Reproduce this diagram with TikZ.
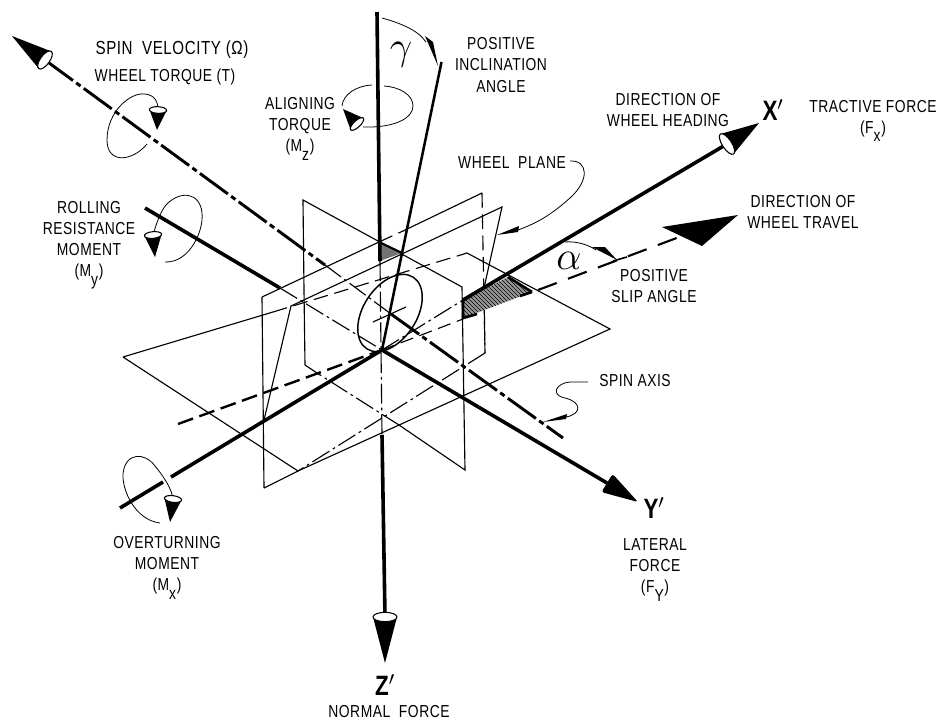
\documentclass[tikz,border=0pt]{standalone}
\usepackage{fix-cm}
\usepackage{fontspec}
\setmainfont[FakeStretch=0.8,LetterSpace=3]{Liberation Sans}
\usetikzlibrary{calc,patterns}

\newcommand{\subsc}[1]{\lower.95ex\hbox{#1}\kern.5pt}
\newcommand{\cone}[4]{% base, tip, half width, depth of the open end
    \fill ($(#1)!#3!90:(#2)$) -- (#2) -- ($(#1)!#3!-90:(#2)$) -- cycle;
    \draw[line width=.8pt,fill=white] let \p1=($(#2)-(#1)$), \n1={atan2(\y1,\x1)} in
        (#1) circle[x radius=#4,y radius=#3,rotate=\n1];
}

\tikzset{
    axisline/.style={line width=2.7pt},
    planeline/.style={line width=.85pt},
    loopline/.style={line width=.6pt},
    chain/.style={dash pattern=on 26pt off 3pt on 4pt off 3pt},
    thinchain/.style={planeline,dash pattern=on 15pt off 3pt on 2pt off 3pt},
    hidden/.style={planeline,dash pattern=on 11pt off 5pt},
    lbl/.style={inner sep=0pt,align=center,font=\fontsize{13}{15.8}\selectfont},
    bigaxis/.style={inner sep=0pt,font=\fontsize{21}{21}\selectfont\bfseries},
}

\begin{document}
\begin{tikzpicture}[x=.75pt,y=-.75pt]
    \useasboundingbox (0,0) rectangle (936,722);

    % axes
    \coordinate (o) at (382,350);
    \coordinate (hub) at (391,314);
    \coordinate (ztop) at (377,12);
    \coordinate (zin) at (380,261);
    \coordinate (zout) at (382,435);
    \coordinate (zbase) at (385,617);
    \coordinate (ztip) at (385,663);
    \coordinate (xback) at (120,508);
    \coordinate (xgapa) at (163,482);
    \coordinate (xgapb) at (171,477);
    \coordinate (xin) at (463,300);
    \coordinate (xbase) at (727,144);
    \coordinate (xtip) at (759,123);
    \coordinate (yback) at (145,208);
    \coordinate (yin) at (280,288);
    \coordinate (ybase) at (607,483);
    \coordinate (ytip) at (638,502);
    \coordinate (spinbase) at (45,60);
    \coordinate (spintip) at (12,36);
    \coordinate (spinin) at (325,265);
    \coordinate (spinend) at (563,438);
    \coordinate (inctop) at (441.5,62);
    \coordinate (travelback) at (178,424);
    \coordinate (travelin) at (463,319);
    \coordinate (travelout) at (538,290);
    \coordinate (travelbase) at (682,236);
    \coordinate (traveltip) at (738,215);
    \coordinate (travela) at (662,227);
    \coordinate (travelb) at (702,246);

    % plane corners
    \coordinate (ga) at (123,357);
    \coordinate (gb) at (298,471);
    \coordinate (gc) at (610,329);
    \coordinate (gd) at (467,253);
    \coordinate (gsolid) at (273,312);
    \coordinate (aa) at (303,200);
    \coordinate (ab) at (462,287);
    \coordinate (ac) at (465,470);
    \coordinate (ad) at (305,365);
    \coordinate (ae) at (399,425);
    \coordinate (af) at (317,373);
    \coordinate (ag) at (304,290);
    \coordinate (ba) at (262,297);
    \coordinate (bb) at (482,193);
    \coordinate (bc) at (485,353);
    \coordinate (bd) at (264,488);
    \coordinate (be) at (379,242);
    \coordinate (bf) at (403,231);
    \coordinate (ca) at (291,306);
    \coordinate (cb) at (502,207);
    \coordinate (cc) at (484,288);
    \coordinate (cd) at (264,420);
    \coordinate (wedgea) at (402,253);
    \coordinate (wedgeb) at (380,261);
    \coordinate (slipa) at (463,318);
    \coordinate (slipb) at (508,277);
    \coordinate (slipc) at (532,292);
    \coordinate (crossa) at (373,322);
    \coordinate (crossb) at (406,307);

    % planes
    \draw[planeline] (ga) -- (gsolid) (ga) -- (gb) -- (gc) -- (gd);
    \draw[hidden] (gsolid) -- (gd);
    \draw[planeline] (af) -- (ad) -- (ag) -- (aa) -- (ab) -- (ac) -- (ae);
    \draw[thinchain] (ae) -- (af);
    \draw[planeline] (ba) -- (be) (bf) -- (bb) (bd) -- (gb) (ba) -- (bd);
    \draw[hidden] (bb) -- (bc) (be) -- (bf);
    \draw[thinchain] (bc) -- (gb);
    \draw[planeline] (cd) -- (ca) -- (cb) -- (cc);
    \draw[hidden] (cc) -- (bc);

    % shaded wedges
    \fill[black!55] (be) -- (wedgea) -- (wedgeb) -- cycle;
    \draw[line width=1.6pt] (wedgeb) -- (be) -- (wedgea);
    \fill[black!40] (xin) -- (slipb) -- (slipc) -- (slipa) -- cycle;
    \fill[pattern=north west lines] (xin) -- (slipb) -- (slipc) -- (slipa) -- cycle;
    \draw[line width=2pt] (slipb) -- (slipc) (xin) -- (slipa) -- ++(14,-4);
    \draw[line width=2pt] (slipc) -- ++(-12,4);

    % wheel
    \draw[line width=1.1pt] (hub) ++(-1,-1) circle[x radius=32pt,y radius=20pt,rotate=57];
    \draw[planeline] (crossa) -- (crossb);

    % axes again, over the planes
    \draw[axisline] (ztop) -- (zin) (zout) -- (zbase);
    \draw[thinchain] (zin) -- (zout);
    \draw[axisline] (xback) -- (xgapa) (xgapb) -- (o) (xin) -- (xbase);
    \draw[thinchain] (o) -- (xin);
    \draw[axisline] (yback) -- (yin) (o) -- (ybase);
    \draw[thinchain] (yin) -- (o);
    \draw[line width=2.2pt,chain] (spinbase) -- (spinin);
    \draw[thinchain] (spinin) -- (hub);
    \draw[line width=2.2pt,chain] (hub) -- (spinend);
    \draw[line width=1.9pt] (inctop) -- (o);
    \draw[line width=1.8pt,dash pattern=on 12pt off 5pt] (travelback) -- (o);
    \draw[planeline,dash pattern=on 10pt off 5pt] (o) -- (travelin);
    \draw[line width=1.6pt,dash pattern=on 15pt off 9pt] (travelout) -- (travelbase);

    % arrowheads
    \cone{zbase}{ztip}{9pt}{3.5pt}
    \cone{xbase}{xtip}{9pt}{3.5pt}
    \cone{spinbase}{spintip}{8pt}{3.5pt}
    \fill[rounded corners=2pt] ($(ybase)!8pt!90:(ytip)$) -- (ytip) -- ($(ybase)!8pt!-90:(ytip)$) -- cycle;
    \fill (travela) -- (traveltip) -- (travelb) -- cycle;

    % torque loops
    \coordinate (spinloop) at (147,144);
    \coordinate (spinconeb) at (158,110);
    \coordinate (spinconet) at (157,130);
    \draw[loopline] (spinloop) .. controls (132,162) and (107,164) .. (107,140)
        .. controls (107,112) and (130,92) .. (145,94)
        .. controls (155,95) and (158,102) .. (spinconeb);
    \cone{spinconeb}{spinconet}{6.5pt}{2.5pt}

    \coordinate (rollloop) at (165,262);
    \coordinate (rollconeb) at (153,235);
    \coordinate (rollconet) at (155,257);
    \draw[loopline] (rollloop) .. controls (190,263) and (204,230) .. (202,213)
        .. controls (200,192) and (180,190) .. (166,205)
        .. controls (160,212) and (156,225) .. (rollconeb);
    \cone{rollconeb}{rollconet}{6.5pt}{2.5pt}

    \coordinate (overloop) at (160,523);
    \coordinate (overconeb) at (173,499);
    \coordinate (overconet) at (170,522);
    \draw[loopline] (overloop) .. controls (135,520) and (122,490) .. (123,474)
        .. controls (125,452) and (145,452) .. (155,466)
        .. controls (165,478) and (172,490) .. (overconeb);
    \cone{overconeb}{overconet}{6.5pt}{2.5pt}

    \coordinate (aligna) at (372,85);
    \coordinate (alignb) at (384,86);
    \coordinate (alignc) at (363,127);
    \coordinate (alignconeb) at (357,124);
    \coordinate (alignconet) at (343,109);
    \draw[loopline] (aligna) .. controls (355,86) and (343,95) .. (342,106);
    \draw[loopline] (alignb) .. controls (400,87) and (413,95) .. (413,106)
        .. controls (413,118) and (395,128) .. (alignc);
    \cone{alignconeb}{alignconet}{6.5pt}{2.5pt}

    % angle and leader arrows
    \coordinate (gama) at (382,18);
    \coordinate (gamb) at (426,42);
    \coordinate (gamc) at (425,36);
    \coordinate (gamd) at (438,66);
    \coordinate (game) at (433,42);
    \draw[loopline] (gama) .. controls (400,23) and (418,30) .. (gamb);
    \fill (gamc) -- (gamd) -- (game) -- cycle;

    \coordinate (alpa) at (565,242);
    \coordinate (alpb) at (596,250);
    \coordinate (alpc) at (592,247);
    \coordinate (alpd) at (617,260);
    \coordinate (alpe) at (605,247);
    \coordinate (alpf) at (613,261);
    \coordinate (alpg) at (627,257);
    \draw[loopline] (alpa) .. controls (575,241) and (587,244) .. (alpb);
    \fill (alpc) -- (alpd) -- (alpe) -- cycle;
    \draw[line width=1.2pt] (alpf) -- (alpg);

    \coordinate (plna) at (570,161);
    \coordinate (plnb) at (518,230);
    \coordinate (plnc) at (497,235);
    \coordinate (plnd) at (519,226);
    \coordinate (plne) at (518,232);
    \draw[loopline] (plna) .. controls (588,160) and (590,180) .. (570,198)
        .. controls (553,213) and (540,222) .. (plnb);
    \fill (plnc) -- (plnd) -- (plne) -- cycle;

    \coordinate (sqga) at (588,382);
    \coordinate (sqgb) at (543,422);
    \coordinate (sqgc) at (567,414);
    \coordinate (sqgd) at (566,419);
    \draw[loopline] (sqga) -- (570,382) .. controls (556,383) and (550,395) .. (565,398)
        .. controls (582,402) and (582,414) .. (566,417);
    \fill (sqgb) -- (sqgc) -- (sqgd) -- cycle;

    % labels
    \node[lbl,font=\fontsize{14.2}{16}\selectfont] (spinvel) at (172,50) {SPIN\enspace VELOCITY (Ω)};
    \node[lbl] (torque) at (165,77) {WHEEL TORQUE (T)};
    \node[lbl] (aligning) at (300,129) {ALIGNING\\TORQUE\\(M\subsc{z})};
    \node[lbl] (rolling) at (89,245) {ROLLING\\RESISTANCE\\MOMENT\\(M\subsc{y})};
    \node[lbl] (overturn) at (167,568) {OVERTURNING\\MOMENT\\(M\subsc{x})};
    \node[lbl] (lateral) at (655,570) {LATERAL\\FORCE\\(F\subsc{Y})};
    \node[lbl] (normal) at (389,712) {NORMAL\enspace FORCE};
    \node[lbl] (inclin) at (501,65) {POSITIVE\\INCLINATION\\ANGLE};
    \node[lbl] (heading) at (668,110) {DIRECTION OF\\WHEEL HEADING};
    \node[lbl] (tractive) at (873,121) {TRACTIVE FORCE\\(F\subsc{x})};
    \node[lbl] (plane) at (512,163) {WHEEL\enspace PLANE};
    \node[lbl] (travel) at (803,212) {DIRECTION OF\\WHEEL TRAVEL};
    \node[lbl] (slip) at (654,286) {POSITIVE\\SLIP ANGLE};
    \node[lbl] (spinaxis) at (635,381) {SPIN AXIS};
    \node[bigaxis] (xlabel) at (773,110) {X$'$};
    \node[bigaxis] (ylabel) at (654,508) {Y$'$};
    \node[bigaxis] (zlabel) at (385,685) {Z$'$};
    \node[inner sep=0pt,font=\fontsize{30}{30}\selectfont] (gammalabel) at (401,55) {$\gamma$};
    \node[inner sep=0pt,font=\fontsize{30}{30}\selectfont] (alphalabel) at (569,261) {$\alpha$};
\end{tikzpicture}
\end{document}
